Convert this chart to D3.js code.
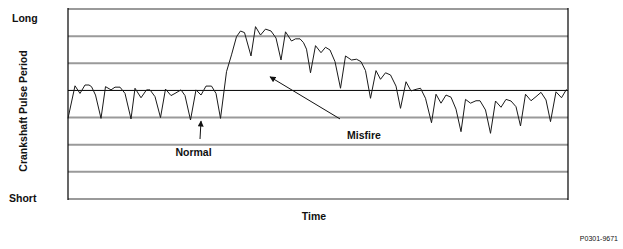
<!DOCTYPE html>
<html>
<head>
<meta charset="utf-8">
<script src="https://cdn.jsdelivr.net/npm/d3@7"></script>
<style>
  body { margin: 0; background: #fff; }
  svg { display: block; }
  text { font-family: "Liberation Sans", Arial, sans-serif; }
</style>
</head>
<body>
<svg width="623" height="249"></svg>
<script>
// sample times (arbitrary units) and crankshaft pulse period (arbitrary units)
const times = [0, 1.4, 2.4, 3.4, 4.2, 4.7, 5.5, 6.6, 7.5, 8.6, 9.4, 10.4, 11.4, 12.6, 13.4, 14.6,
  15.7, 16.4, 17.4, 18.5, 19.5, 20.6, 21.4, 22.6, 23.4, 24.5, 25.6, 26.6, 27.6, 28.7, 29.6, 30.5,
  31.7, 32.7, 33.7, 34.5, 35.3, 36.6, 37.5, 38.5, 39.5, 40.6, 41.6, 42.6, 43.5, 44.7, 45.5, 46.4,
  47.1, 47.7, 48.5, 49.5, 50.6, 51.5, 52.4, 53.4, 54.5, 55.5, 56.7, 57.7, 58.6, 59.5, 60.5, 61.6,
  62.5, 63.5, 64.5, 65.6, 66.5, 67.6, 68.6, 69.6, 70.5, 71.5, 72.7, 73.6, 74.6, 75.6, 76.6, 77.6,
  78.6, 79.5, 80.5, 81.6, 82.4, 83.5, 84.5, 85.5, 86.6, 87.6, 88.6, 89.6, 90.5, 91.5, 92.6, 93.6,
  94.6, 95.6, 96.5, 97.6, 98.7, 99.7];
const periods = [2.97, 4.17, 3.89, 4.20, 4.20, 4.14, 3.83, 2.97, 4.14, 4.02, 4.12, 4.12, 3.89, 2.95, 4.08, 3.73,
  4.02, 4.02, 3.77, 3.00, 4.05, 3.81, 3.89, 4.02, 3.81, 2.91, 4.02, 3.83, 4.16, 4.16, 3.89, 2.97,
  4.69, 5.31, 5.98, 6.19, 6.13, 5.27, 6.35, 6.04, 6.26, 6.19, 5.93, 5.12, 6.16, 5.82, 5.90, 5.90,
  5.76, 5.52, 4.65, 5.65, 5.39, 5.59, 5.49, 5.06, 4.08, 5.27, 5.12, 5.15, 5.06, 4.73, 3.71, 4.73,
  4.41, 4.65, 4.57, 4.16, 3.34, 4.32, 3.98, 4.04, 4.08, 3.71, 2.81, 3.86, 3.53, 3.83, 3.75, 3.31,
  2.48, 3.67, 3.53, 3.62, 3.62, 3.28, 2.42, 3.61, 3.38, 3.67, 3.61, 3.40, 2.69, 3.86, 3.62, 3.77,
  3.93, 3.65, 2.85, 3.95, 3.73, 4.04];

const gridLevels = [0, 1, 2, 3, 4, 5, 6, 7];
const normalLevel = 4;

// annotations: [time, period]
const normalArrow = [[26.4, 2.21], [26.6, 2.87]];
const normalLabel = [25.1, 1.57];
const misfireArrow = [[54.4, 2.95], [40.4, 4.5]];
const misfireLabel = [59.2, 2.21];

const svg = d3.select('svg');
const x = d3.scaleLinear().domain([0, 100]).range([68, 568]);
const y = d3.scaleLinear().domain([0, 7]).range([199, 9]);

svg.append('defs').append('marker')
  .attr('id', 'head')
  .attr('viewBox', '0 0 10 10')
  .attr('refX', 9).attr('refY', 5)
  .attr('markerWidth', 7).attr('markerHeight', 6)
  .attr('markerUnits', 'userSpaceOnUse')
  .attr('orient', 'auto')
  .append('path').attr('d', 'M0,0L10,5L0,10z').attr('fill', '#111');

const g = svg.append('g');

// horizontal bands
g.selectAll('line.grid')
  .data(gridLevels)
  .enter().append('line')
  .attr('class', 'grid')
  .attr('x1', x(0)).attr('x2', x(100))
  .attr('y1', d => y(d)).attr('y2', d => y(d))
  .attr('stroke', d => d === normalLevel ? '#000' : '#9a9a9a')
  .attr('stroke-width', d => d === normalLevel ? 1 : 2);

// side borders
g.selectAll('line.side')
  .data([0, 100])
  .enter().append('line')
  .attr('class', 'side')
  .attr('x1', d => x(d)).attr('x2', d => x(d))
  .attr('y1', y(0) + 1).attr('y2', y(7) - 1)
  .attr('stroke', '#000').attr('stroke-width', 1.2);

const line = d3.line()
  .x((d, i) => x(times[i]))
  .y(d => y(d));

g.append('path')
  .datum(periods)
  .attr('d', line)
  .attr('fill', 'none')
  .attr('stroke', '#1a1a1a')
  .attr('stroke-width', 1);

// arrows
[normalArrow, misfireArrow].forEach(a => {
  g.append('line')
    .attr('x1', x(a[0][0])).attr('y1', y(a[0][1]))
    .attr('x2', x(a[1][0])).attr('y2', y(a[1][1]))
    .attr('stroke', '#111').attr('stroke-width', 1)
    .attr('marker-end', 'url(#head)');
});

const bold = { 'font-size': '10.5px', 'font-weight': 'bold', 'fill': '#111' };
function label(sel, attrs) {
  Object.entries(attrs).forEach(([k, v]) => sel.style(k, v));
  return sel;
}

label(g.append('text').attr('x', x(normalLabel[0])).attr('y', y(normalLabel[1]))
  .attr('text-anchor', 'middle').text('Normal'), bold);
label(g.append('text').attr('x', x(misfireLabel[0])).attr('y', y(misfireLabel[1]))
  .attr('text-anchor', 'middle').text('Misfire'), bold);

// axis labels
label(svg.append('text').attr('x', 12).attr('y', 22).text('Long'), bold);
label(svg.append('text').attr('x', 9).attr('y', 202).text('Short'), bold);
label(svg.append('text')
  .attr('transform', 'translate(26.5,111) rotate(-90)')
  .attr('text-anchor', 'middle').text('Crankshaft Pulse Period'), bold);
label(svg.append('text').attr('x', 314).attr('y', 220)
  .attr('text-anchor', 'middle').text('Time'), bold);

svg.append('text').attr('x', 618).attr('y', 241)
  .attr('text-anchor', 'end')
  .style('font-size', '7px').style('fill', '#111')
  .text('P0301-9671');
</script>
</body>
</html>
